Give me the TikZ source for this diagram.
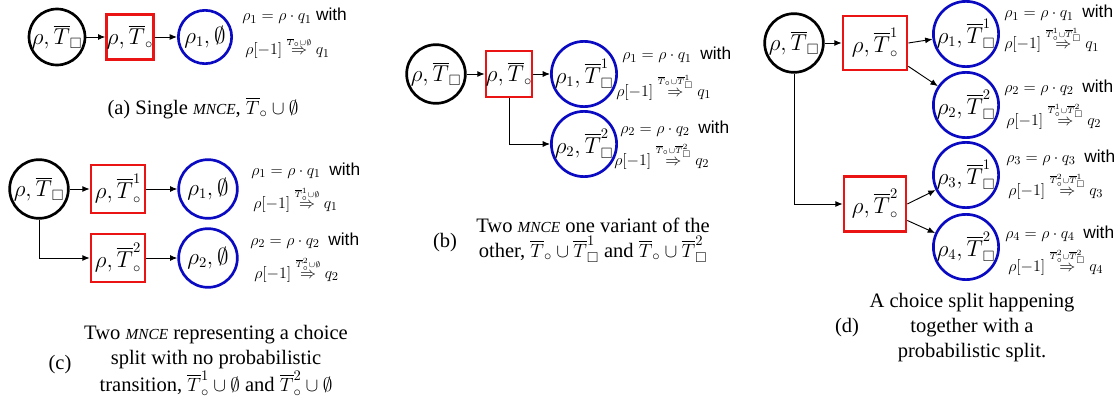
\documentclass[tikz,border=0pt]{standalone}
\usepackage{amsmath,amssymb}
\usepackage{fontspec}
\setmainfont{Liberation Serif}
\setsansfont{Liberation Sans}
\usepackage{tikz}
\usetikzlibrary{arrows.meta}
\definecolor{cmnce}{RGB}{235,20,20}
\definecolor{cdist}{RGB}{10,10,195}
\newcommand{\Tov}{\overline{T}}
\newcommand{\yields}[1]{\stackrel{\scriptscriptstyle #1}{\Rightarrow}}
\newcommand{\mnce}{\textit{\fontsize{11.5}{13}\selectfont MNCE}}

\begin{document}
\begin{tikzpicture}[x=0.75pt,y=-0.75pt,
  initst/.style={circle,draw=black,line width=2pt,minimum size=44pt,inner sep=0pt,font=\fontsize{16}{18}\selectfont},
  mncebox/.style={rectangle,draw=cmnce,line width=2pt,inner sep=0pt,font=\fontsize{16}{18}\selectfont},
  distst/.style={circle,draw=cdist,line width=2pt,minimum size=44pt,inner sep=0pt,font=\fontsize{16}{18}\selectfont},
  lbl/.style={anchor=base west,inner sep=0pt,font=\fontsize{13}{15}\selectfont},
  capt/.style={align=center,inner sep=0pt,font=\fontsize{15.4}{18.75}\selectfont},
  flow/.style={-{Latex[length=5.5pt,width=4.5pt]},line width=0.7pt},
]
\useasboundingbox (0,0) rectangle (1119,410);

% (a) single MNCE
\node[initst,minimum size=42pt] (a0) at (57,37) {$\rho,\Tov_{\square}$};
\node[mncebox,minimum width=35pt,minimum height=34pt] (a1) at (130,37) {$\rho,\Tov_{\circ}$};
\node[distst,minimum size=40pt] (a2) at (205,37) {$\rho_1,\emptyset$};
\draw[flow] (a0) -- (a1);
\draw[flow] (a1) -- (a2);
\node[lbl] (a2l1) at (242,21) {$\rho_1=\rho\cdot q_1$ \textsf{with}};
\node[lbl] (a2l2) at (245,55) {$\rho[-1]\yields{\Tov_{\circ}\cup\emptyset} q_1$};
\node[capt] (acap) at (203,108) {(a) Single \mnce, $\Tov_{\circ}\cup\emptyset$};

% (c) choice split, no probabilistic transition
\node[initst] (c0) at (39,189) {$\rho,\Tov_{\square}$};
\node[mncebox,minimum width=40.5pt,minimum height=36pt] (c1) at (118,189) {$\rho,\Tov^{1}_{\circ}$};
\node[mncebox,minimum width=40.5pt,minimum height=36pt] (c2) at (118,258) {$\rho,\Tov^{2}_{\circ}$};
\node[distst] (c1d) at (208,189) {$\rho_1,\emptyset$};
\node[distst] (c2d) at (208,258) {$\rho_2,\emptyset$};
\draw[flow] (c0) -- (c1);
\draw[flow] (c0.south) |- (c2);
\draw[flow] (c1) -- (c1d);
\draw[flow] (c2) -- (c2d);
\node[lbl] (c1l1) at (251,175) {$\rho_1=\rho\cdot q_1$ \ \textsf{with}};
\node[lbl] (c1l2) at (253,208) {$\rho[-1]\yields{\Tov^{1}_{\circ}\cup\emptyset} q_1$};
\node[lbl] (c2l1) at (250,245) {$\rho_2=\rho\cdot q_2$ \ \textsf{with}};
\node[lbl] (c2l2) at (254,278) {$\rho[-1]\yields{\Tov^{2}_{\circ}\cup\emptyset} q_2$};
\node[capt] (cnum) at (60,365) {(c)};
\node[capt] (ccap) at (216,361) {Two \mnce\ representing a choice\\split with no probabilistic\\transition, $\Tov^{1}_{\circ}\cup\emptyset$ and $\Tov^{2}_{\circ}\cup\emptyset$};

% (b) one MNCE variant of the other
\node[initst] (b0) at (436,74) {$\rho,\Tov_{\square}$};
\node[mncebox,minimum width=34.5pt,minimum height=34.5pt] (b1) at (509,74) {$\rho,\Tov_{\circ}$};
\node[distst] (b1d) at (584,74) {$\rho_1,\Tov^{1}_{\square}$};
\node[distst] (b2d) at (584,144) {$\rho_2,\Tov^{2}_{\square}$};
\draw[flow] (b0) -- (b1);
\draw[flow] (b1) -- (b1d);
\draw[flow] (b1.south) |- (b2d);
\node[lbl] (b1l1) at (622,60) {$\rho_1=\rho\cdot q_1$ \ \textsf{with}};
\node[lbl] (b1l2) at (616,96) {$\rho[-1]\yields{\Tov_{\circ}\cup\Tov^{1}_{\square}} q_1$};
\node[lbl] (b2l1) at (620,133) {$\rho_2=\rho\cdot q_2$ \ \textsf{with}};
\node[lbl] (b2l2) at (614,165) {$\rho[-1]\yields{\Tov_{\circ}\cup\Tov^{2}_{\square}} q_2$};
\node[capt] (bnum) at (445,243) {(b)};
\node[capt] (bcap) at (593,240) {Two \mnce\ one variant of the\\other, $\Tov_{\circ}\cup\Tov^{1}_{\square}$ and $\Tov_{\circ}\cup\Tov^{2}_{\square}$};

% (d) choice split together with probabilistic split
\node[initst] (d0) at (794,43) {$\rho,\Tov_{\square}$};
\node[mncebox,minimum width=48pt,minimum height=40.5pt] (d1) at (875,43) {$\rho,\Tov^{1}_{\circ}$};
\node[mncebox,minimum width=46.5pt,minimum height=41pt] (d2) at (875,204) {$\rho,\Tov^{2}_{\circ}$};
\node[distst] (d1d) at (966,34) {$\rho_1,\Tov^{1}_{\square}$};
\node[distst] (d2d) at (966,105) {$\rho_2,\Tov^{2}_{\square}$};
\node[distst] (d3d) at (966,175) {$\rho_3,\Tov^{1}_{\square}$};
\node[distst] (d4d) at (966,247) {$\rho_4,\Tov^{2}_{\square}$};
\draw[flow] (d0) -- (d1);
\draw[flow] (d0.south) |- (d2);
\draw[flow] (d1.east) -- (d1d);
\draw[flow] (d1.-35) -- (d2d);
\draw[flow] (d2.east) -- (d3d);
\draw[flow] (d2.-27) -- (d4d);
\node[lbl] (d1l1) at (1004,18) {$\rho_1=\rho\cdot q_1$ \ \textsf{with}};
\node[lbl] (d1l2) at (1004,49) {$\rho[-1]\yields{\Tov^{1}_{\circ}\cup\Tov^{1}_{\square}} q_1$};
\node[lbl] (d2l1) at (1004,92) {$\rho_2=\rho\cdot q_2$ \ \textsf{with}};
\node[lbl] (d2l2) at (1006,125) {$\rho[-1]\yields{\Tov^{1}_{\circ}\cup\Tov^{2}_{\square}} q_2$};
\node[lbl] (d3l1) at (1006,162) {$\rho_3=\rho\cdot q_3$ \ \textsf{with}};
\node[lbl] (d3l2) at (1008,195) {$\rho[-1]\yields{\Tov^{2}_{\circ}\cup\Tov^{1}_{\square}} q_3$};
\node[lbl] (d4l1) at (1005,238) {$\rho_4=\rho\cdot q_4$ \ \textsf{with}};
\node[lbl] (d4l2) at (1008,271) {$\rho[-1]\yields{\Tov^{2}_{\circ}\cup\Tov^{2}_{\square}} q_4$};
\node[capt] (dnum) at (847,328) {(d)};
\node[capt] (dcap) at (972,328) {A choice split happening\\together with a\\probabilistic split.};
\end{tikzpicture}
\end{document}
